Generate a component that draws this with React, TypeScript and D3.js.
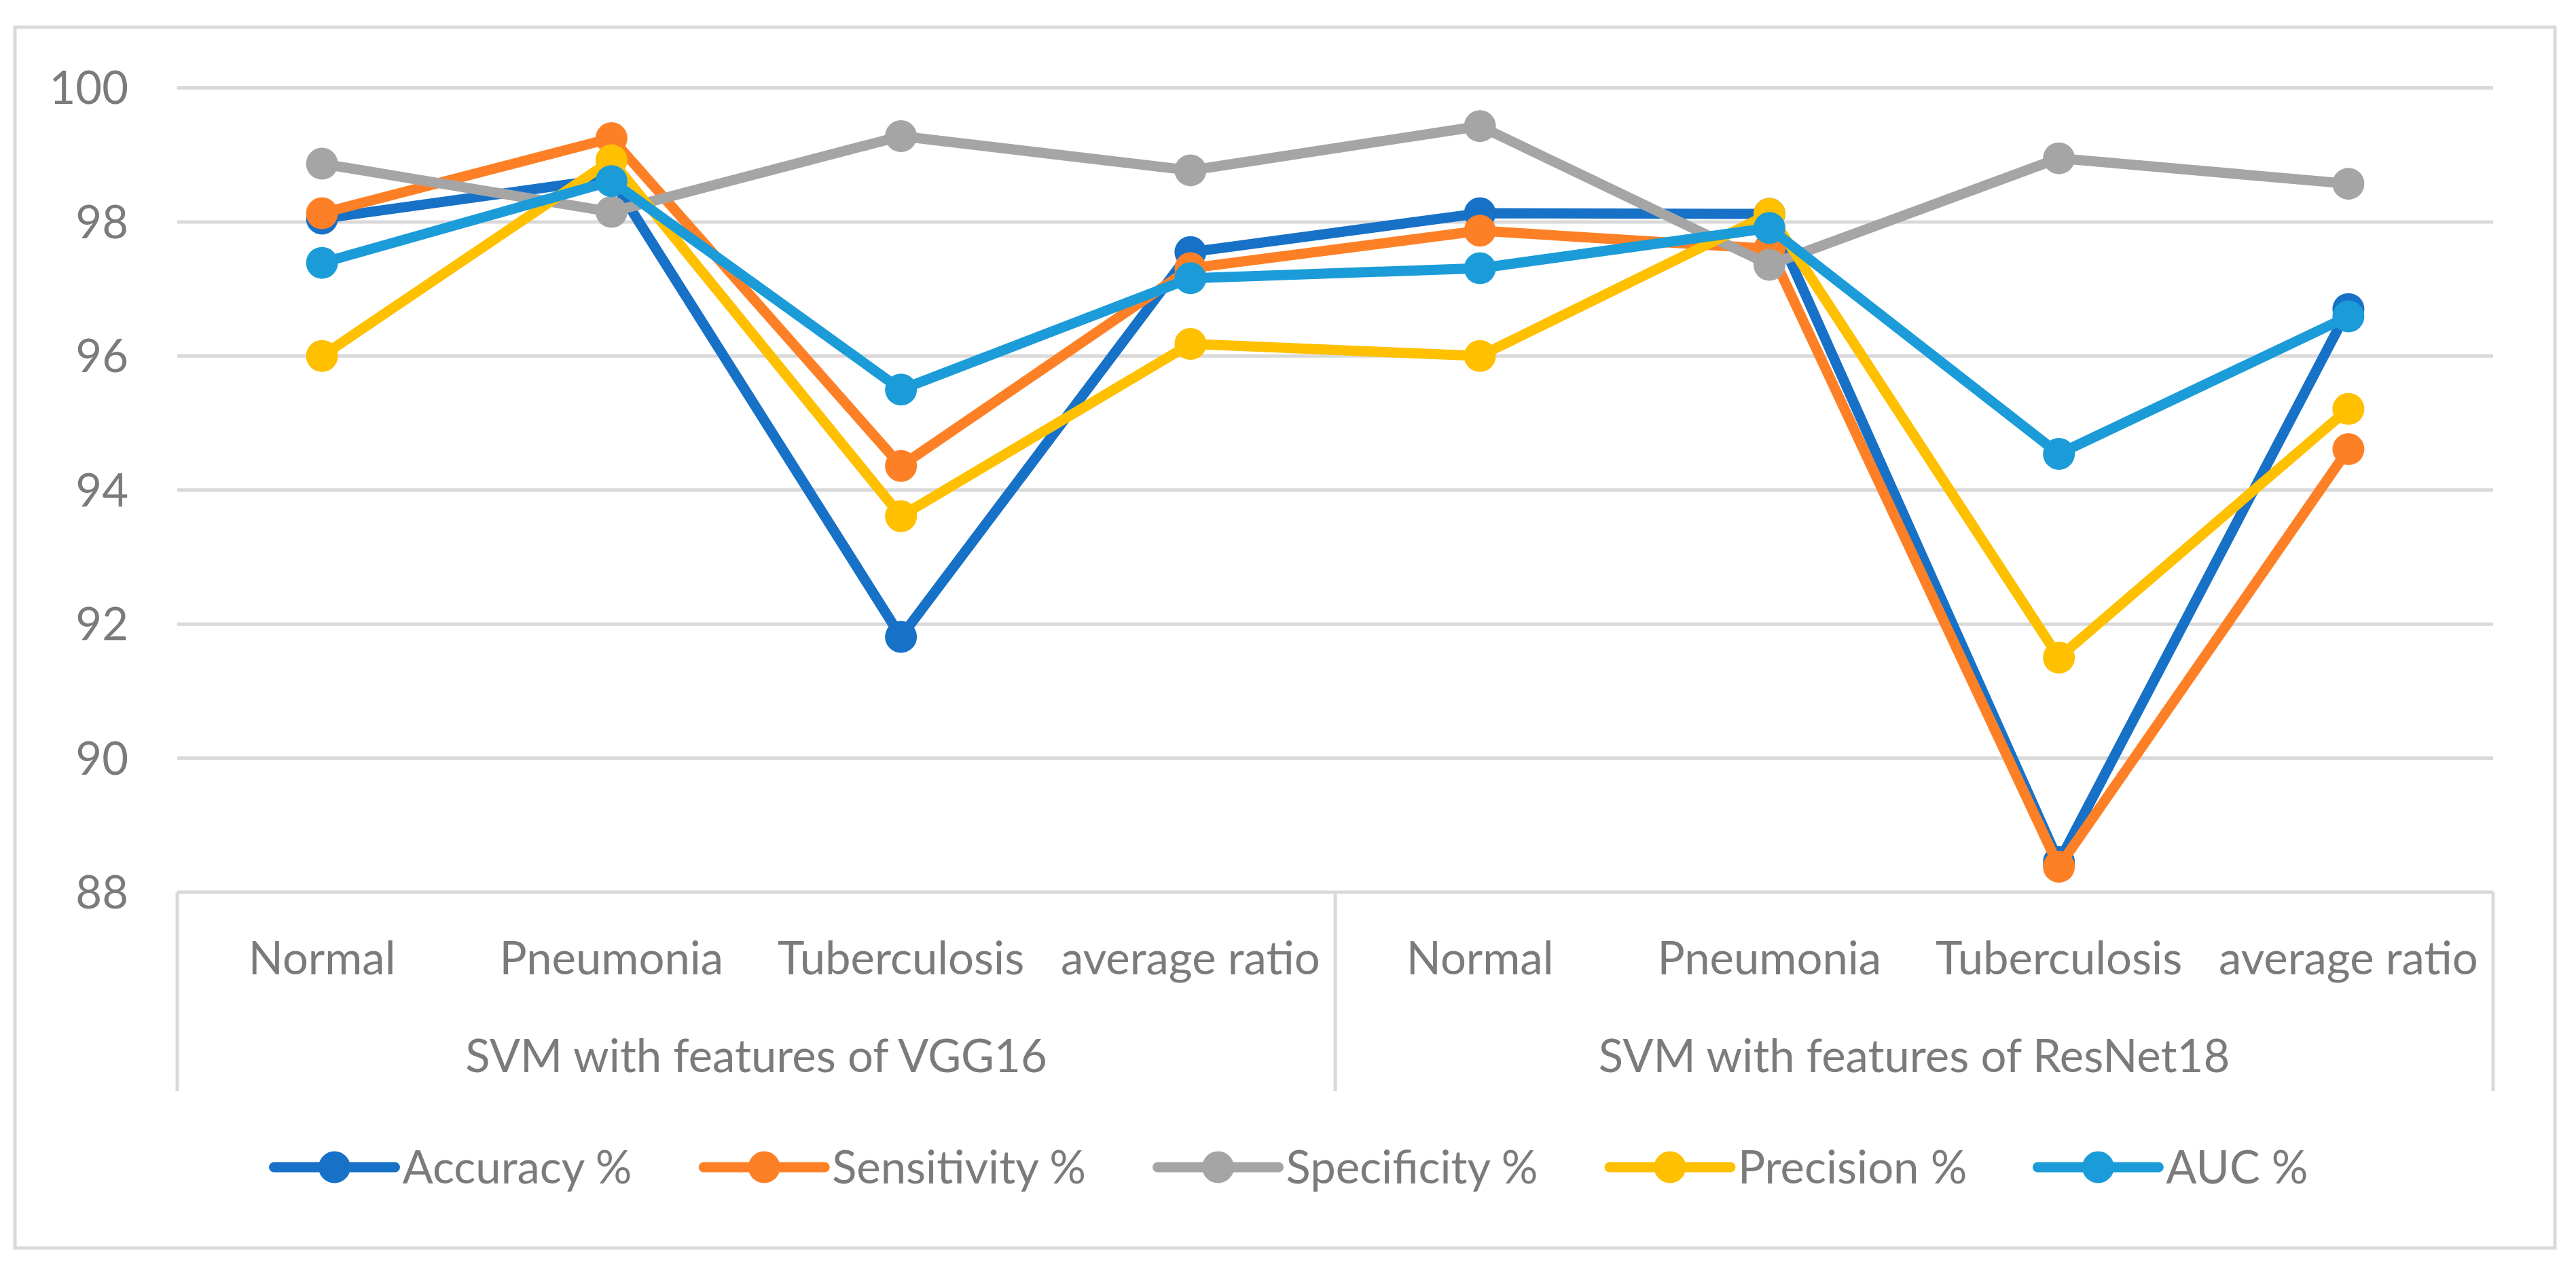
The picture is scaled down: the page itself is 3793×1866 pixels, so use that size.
import React, { useMemo } from 'react';
import * as d3 from 'd3';

const categories = ['Normal', 'Pneumonia', 'Tuberculosis', 'average ratio', 'Normal', 'Pneumonia', 'Tuberculosis', 'average ratio'];
const groups = ['SVM with features of VGG16', 'SVM with features of ResNet18'];
const seriesNames = ['Accuracy %', 'Sensitivity %', 'Specificity %', 'Precision %', 'AUC %'];
const accuracy = [98.05, 98.65, 91.81, 97.55, 98.13, 98.12, 88.45, 96.7];
const sensitivity = [98.13, 99.25, 94.36, 97.31, 97.87, 97.6, 88.38, 94.61];
const specificity = [98.87, 98.15, 99.28, 98.77, 99.43, 97.36, 98.95, 98.57];
const precision = [96.0, 98.92, 93.61, 96.18, 96.0, 98.12, 91.5, 95.21];
const auc = [97.39, 98.61, 95.5, 97.16, 97.31, 97.91, 94.54, 96.59];
const seriesColors = ['#1771C7', '#FE8026', '#A5A5A5', '#FFC000', '#1B9CD8'];
const yTicks = [88, 90, 92, 94, 96, 98, 100];

const W = 3793;
const H = 1866;
const FONT = 'Lato, sans-serif';
const FS = 67;
const TEXT = '#7B7B7B';
const GRID = '#D9D9D9';

function measure(text: string): number {
  const c = document.createElement('canvas');
  const ctx = c.getContext('2d')!;
  ctx.font = `${FS}px Lato`;
  return ctx.measureText(text).width;
}

export default function App() {
  const values = [accuracy, sensitivity, specificity, precision, auc];
  const plotL = 261, plotR = 3671, plotT = 129.5, plotB = 1314;
  const x = d3.scaleBand<number>().domain(d3.range(categories.length)).range([plotL, plotR]);
  const cx = (i: number) => (x(i) as number) + x.bandwidth() / 2;
  const y = d3.scaleLinear().domain([88, 100]).range([plotB, plotT]);
  const line = d3.line<number>().x((_, i) => cx(i)).y((d) => y(d));
  const capOff = FS * 0.358;

  const legend = useMemo(() => {
    const lineLen = 178, gap = 11, spacing = 104;
    const widths = seriesNames.map(measure);
    const total = widths.reduce((a, w) => a + lineLen + gap + w, 0) + spacing * (seriesNames.length - 1);
    let start = 1901 - total / 2;
    return seriesNames.map((n, i) => {
      const it = { x: start, name: n, color: seriesColors[i], lineLen, gap };
      start += lineLen + gap + widths[i] + spacing;
      return it;
    });
  }, []);

  const groupSize = categories.length / groups.length;
  const legendY = 1719;

  return (
    <svg width={W} height={H} style={{ position: 'absolute', left: 0, top: 0, background: '#fff' }} fontFamily={FONT}>
      <rect x={0} y={0} width={W} height={H} fill="#fff" />
      <rect x={22} y={40} width={3740} height={1798} fill="none" stroke={GRID} strokeWidth={5} />
      {yTicks.map((t) => (
        <g key={t}>
          <line x1={plotL} x2={plotR} y1={y(t)} y2={y(t)} stroke={GRID} strokeWidth={5} />
          <text x={189} y={y(t) + capOff} textAnchor="end" fontSize={FS} fill={TEXT}>{t}</text>
        </g>
      ))}
      {/* category axis box lines */}
      {[0, 1, 2].map((k) => {
        const xx = k === 0 ? plotL : k === 2 ? plotR : (x(groupSize) as number);
        return <line key={k} x1={xx} x2={xx} y1={plotB} y2={1607} stroke={GRID} strokeWidth={5} />;
      })}
      {categories.map((c, i) => (
        <text key={i} x={cx(i)} y={1435} textAnchor="middle" fontSize={FS} fill={TEXT}>{c}</text>
      ))}
      {groups.map((g, gi) => {
        const x0 = x(gi * groupSize) as number;
        const x1 = (x((gi + 1) * groupSize - 1) as number) + x.bandwidth();
        return <text key={gi} x={(x0 + x1) / 2} y={1579} textAnchor="middle" fontSize={FS} fill={TEXT}>{g}</text>;
      })}
      {values.map((vals, si) => (
        <g key={si}>
          <path d={line(vals) as string} fill="none" stroke={seriesColors[si]} strokeWidth={15} strokeLinejoin="round" strokeLinecap="round" />
          {vals.map((v, i) => (
            <circle key={i} cx={cx(i)} cy={y(v)} r={23.5} fill={seriesColors[si]} />
          ))}
        </g>
      ))}
      {legend.map((it, i) => (
        <g key={i}>
          <line x1={it.x} x2={it.x + it.lineLen} y1={legendY} y2={legendY} stroke={it.color} strokeWidth={15} strokeLinecap="round" />
          <circle cx={it.x + it.lineLen / 2} cy={legendY} r={23.5} fill={it.color} />
          <text x={it.x + it.lineLen + it.gap} y={legendY + capOff} fontSize={FS} fill={TEXT}>{it.name}</text>
        </g>
      ))}
    </svg>
  );
}
